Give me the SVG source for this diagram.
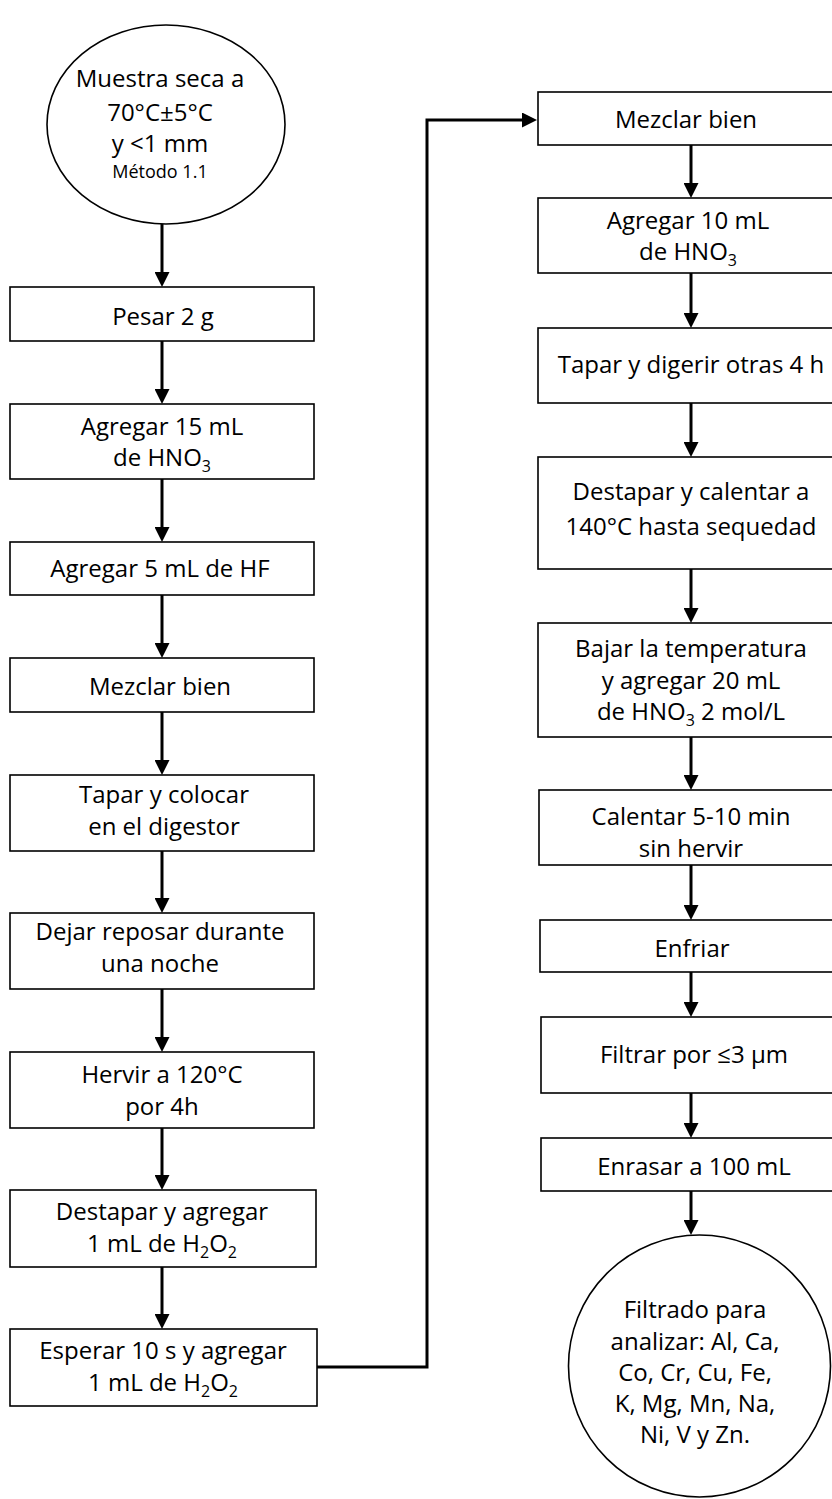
<svg xmlns="http://www.w3.org/2000/svg" width="832" height="1499" viewBox="0 0 832 1499">
  <style>
    .box { fill: #fff; stroke: #000; stroke-width: 1.6; }
    .t { font-family: "Open Sans", "Liberation Sans", sans-serif; font-size: 24px; fill: #000; text-anchor: middle; }
    .small { font-size: 18px; }
    .sub { font-size: 16px; }
    .link { fill: none; stroke: #000; stroke-width: 3; marker-end: url(#arrow); }
  </style>
  <defs>
    <marker id="arrow" viewBox="0 0 15 15" refX="2" refY="7.5" markerWidth="15" markerHeight="15" markerUnits="userSpaceOnUse" orient="auto">
      <path d="M0,0 L15,7.5 L0,15 z" fill="#000"/>
    </marker>
  </defs>
  <rect width="832" height="1499" fill="#fff"/>

  <!-- connectors -->
  <g id="connectors">
    <path class="link" d="M162 224 V274"/>
    <path class="link" d="M162 341 V391"/>
    <path class="link" d="M162 479 V529"/>
    <path class="link" d="M162 595 V645"/>
    <path class="link" d="M162 712 V762"/>
    <path class="link" d="M162 851 V900"/>
    <path class="link" d="M162 989 V1039"/>
    <path class="link" d="M162 1128 V1177"/>
    <path class="link" d="M162 1267 V1316"/>
    <path class="link" d="M317 1367 H427 V120 H524"/>
    <path class="link" d="M691 145 V185"/>
    <path class="link" d="M691 273 V315"/>
    <path class="link" d="M691 403 V444"/>
    <path class="link" d="M691 569 V610"/>
    <path class="link" d="M691 737 V777"/>
    <path class="link" d="M691 865 V907"/>
    <path class="link" d="M691 972 V1004"/>
    <path class="link" d="M691 1093 V1125"/>
    <path class="link" d="M691 1191 V1222"/>
  </g>

  <!-- left column -->
  <g id="muestra">
    <ellipse class="box" cx="166" cy="124.5" rx="119" ry="99.5"/>
    <text class="t" x="160" y="87">Muestra seca a</text>
    <text class="t" x="160" y="121">70°C±5°C</text>
    <text class="t" x="160" y="152">y &lt;1 mm</text>
    <text class="t small" x="160" y="178">Método 1.1</text>
  </g>
  <g id="pesar">
    <rect class="box" x="10" y="287" width="304" height="54"/>
    <text class="t" x="163" y="325">Pesar 2 g</text>
  </g>
  <g id="agregar-hno3">
    <rect class="box" x="10" y="404" width="304" height="75"/>
    <text class="t" x="162" y="435">Agregar 15 mL</text>
    <text class="t" x="162" y="466">de HNO<tspan class="sub" dy="6">3</tspan></text>
  </g>
  <g id="agregar-hf">
    <rect class="box" x="10" y="542" width="304" height="53"/>
    <text class="t" x="160" y="577">Agregar 5 mL de HF</text>
  </g>
  <g id="mezclar-1">
    <rect class="box" x="10" y="658" width="304" height="54"/>
    <text class="t" x="160" y="695">Mezclar bien</text>
  </g>
  <g id="tapar-colocar">
    <rect class="box" x="10" y="775" width="304" height="76"/>
    <text class="t" x="164" y="803">Tapar y colocar</text>
    <text class="t" x="164" y="835">en el digestor</text>
  </g>
  <g id="reposar">
    <rect class="box" x="10" y="913" width="304" height="76"/>
    <text class="t" x="160" y="940">Dejar reposar durante</text>
    <text class="t" x="160" y="972">una noche</text>
  </g>
  <g id="hervir">
    <rect class="box" x="10" y="1052" width="304" height="76"/>
    <text class="t" x="162" y="1083">Hervir a 120°C</text>
    <text class="t" x="162" y="1115">por 4h</text>
  </g>
  <g id="destapar-h2o2">
    <rect class="box" x="10" y="1190" width="306" height="77"/>
    <text class="t" x="162" y="1220">Destapar y agregar</text>
    <text class="t" x="162" y="1252">1 mL de H<tspan class="sub" dy="6">2</tspan><tspan dy="-6">O</tspan><tspan class="sub" dy="6">2</tspan></text>
  </g>
  <g id="esperar">
    <rect class="box" x="10" y="1329" width="307" height="77"/>
    <text class="t" x="163" y="1359">Esperar 10 s y agregar</text>
    <text class="t" x="163" y="1391">1 mL de H<tspan class="sub" dy="6">2</tspan><tspan dy="-6">O</tspan><tspan class="sub" dy="6">2</tspan></text>
  </g>

  <!-- right column -->
  <g id="mezclar-2">
    <rect class="box" x="538" y="92" width="296" height="53"/>
    <text class="t" x="686" y="128">Mezclar bien</text>
  </g>
  <g id="agregar-hno3-2">
    <rect class="box" x="538" y="198" width="296" height="75"/>
    <text class="t" x="688" y="229">Agregar 10 mL</text>
    <text class="t" x="688" y="260">de HNO<tspan class="sub" dy="6">3</tspan></text>
  </g>
  <g id="digerir">
    <rect class="box" x="538" y="328" width="296" height="75"/>
    <text class="t" x="691" y="373">Tapar y digerir otras 4 h</text>
  </g>
  <g id="secar">
    <rect class="box" x="538" y="457" width="296" height="112"/>
    <text class="t" x="691" y="500">Destapar y calentar a</text>
    <text class="t" x="691" y="535">140°C hasta sequedad</text>
  </g>
  <g id="bajar">
    <rect class="box" x="538" y="623" width="296" height="114"/>
    <text class="t" x="691" y="657">Bajar la temperatura</text>
    <text class="t" x="691" y="689">y agregar 20 mL</text>
    <text class="t" x="691" y="720">de HNO<tspan class="sub" dy="6">3</tspan><tspan dy="-6"> 2 mol/L</tspan></text>
  </g>
  <g id="calentar">
    <rect class="box" x="539" y="790" width="295" height="75"/>
    <text class="t" x="691" y="825">Calentar 5-10 min</text>
    <text class="t" x="691" y="857">sin hervir</text>
  </g>
  <g id="enfriar">
    <rect class="box" x="540" y="920" width="294" height="52"/>
    <text class="t" x="692" y="957">Enfriar</text>
  </g>
  <g id="filtrar">
    <rect class="box" x="541" y="1017" width="293" height="76"/>
    <text class="t" x="694" y="1063">Filtrar por ≤3 µm</text>
  </g>
  <g id="enrasar">
    <rect class="box" x="541" y="1138" width="293" height="53"/>
    <text class="t" x="694" y="1175">Enrasar a 100 mL</text>
  </g>
  <g id="filtrado">
    <circle class="box" cx="699.5" cy="1366" r="131"/>
    <text class="t" x="695" y="1318">Filtrado para</text>
    <text class="t" x="695" y="1350">analizar: Al, Ca,</text>
    <text class="t" x="695" y="1381">Co, Cr, Cu, Fe,</text>
    <text class="t" x="695" y="1412">K, Mg, Mn, Na,</text>
    <text class="t" x="695" y="1443">Ni, V y Zn.</text>
  </g>
</svg>
